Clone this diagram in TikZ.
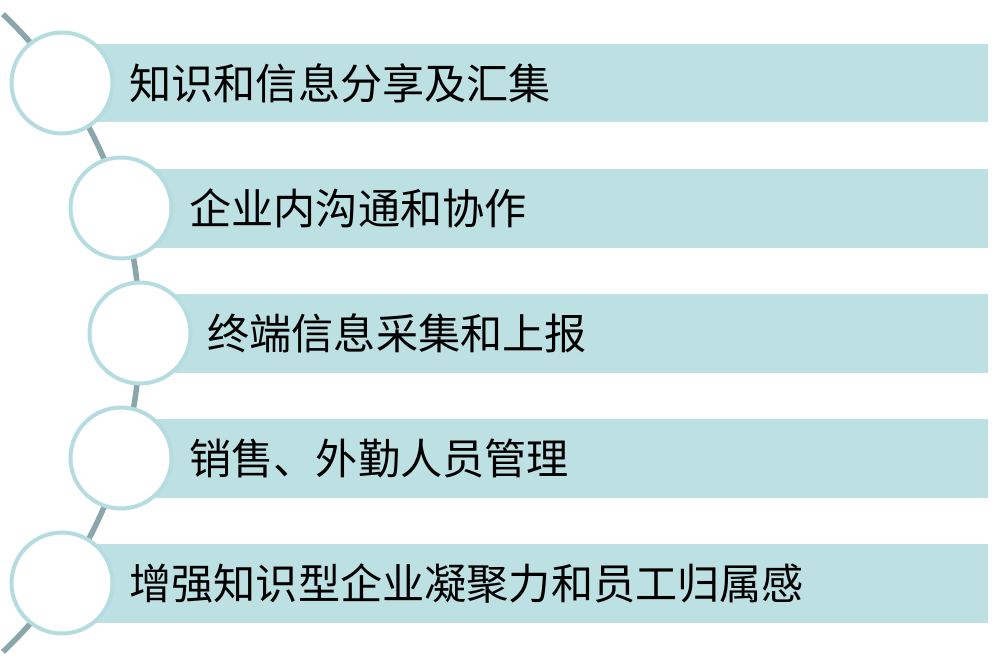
\documentclass[tikz,border=0pt]{standalone}
\usepackage{fontspec}
\newfontfamily\cjk{Noto Sans CJK SC}
\definecolor{barfill}{HTML}{BDE0E3}
\definecolor{ringline}{HTML}{B5DCE0}
\definecolor{spine}{HTML}{8BA6AA}
\tikzset{
    bar/.style={fill=barfill, minimum height=1.58cm, inner sep=0pt, anchor=west},
    ring/.style={circle, draw=ringline, line width=0.08cm, fill=white, minimum size=2.02cm, inner sep=0pt},
    lbl/.style={anchor=west, inner sep=0pt, font=\cjk\fontsize{24}{28}\selectfont}
}
\begin{document}
\begin{tikzpicture}[x=0.02cm, y=-0.02cm]
        \useasboundingbox (0,0) rectangle (1000,667);

        % the curved spine behind the rings
        \draw[spine, line width=0.11cm]
            plot[domain=-46.5:46.5, samples=80] ({-299.6+439.6*cos(\x)}, {333+439.6*sin(\x)});

        \node[bar, minimum width=18.52cm] (b1) at (62,83) {};
        \node[bar, minimum width=17.34cm] (b2) at (121,208) {};
        \node[bar, minimum width=16.96cm] (b3) at (140,333) {};
        \node[bar, minimum width=17.34cm] (b4) at (121,458) {};
        \node[bar, minimum width=18.52cm] (b5) at (62,583) {};

        \node[ring] (r1) at (62,83) {};
        \node[ring] (r2) at (121,208) {};
        \node[ring] (r3) at (140,333) {};
        \node[ring] (r4) at (121,458) {};
        \node[ring] (r5) at (62,583) {};

        \node[lbl] (t1) at (129,83) {知识和信息分享及汇集};
        \node[lbl] (t2) at (189,208) {企业内沟通和协作};
        \node[lbl] (t3) at (207,333) {终端信息采集和上报};
        \node[lbl] (t4) at (189,458) {销售、外勤人员管理};
        \node[lbl] (t5) at (129,583) {增强知识型企业凝聚力和员工归属感};
    \end{tikzpicture}
\end{document}
